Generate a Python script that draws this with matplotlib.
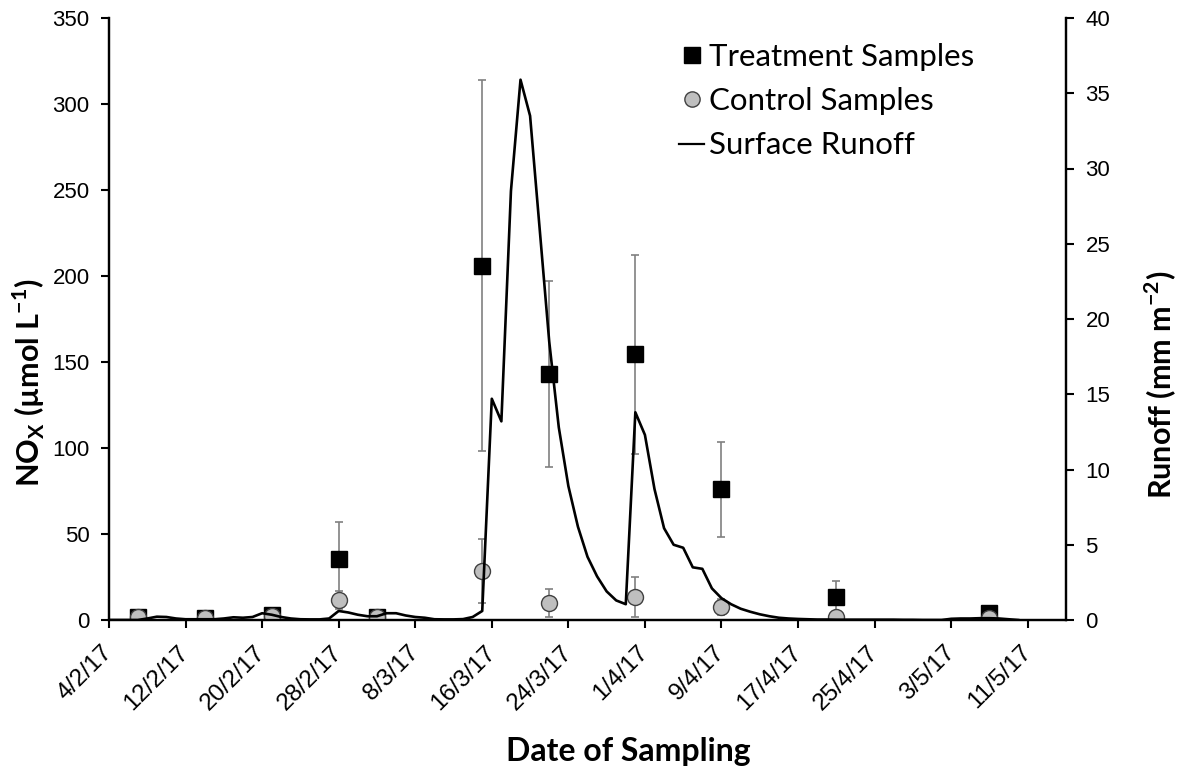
import numpy as np
import pandas as pd
import matplotlib
matplotlib.use('Agg')
import matplotlib.pyplot as plt
from matplotlib.lines import Line2D

# --- data ---
sample_dates = ['2017-02-07', '2017-02-14', '2017-02-21', '2017-02-28', '2017-03-04',
                '2017-03-15', '2017-03-22', '2017-03-31', '2017-04-09', '2017-04-21',
                '2017-05-07']
treatment = [1.5, 1.2, 3.0, 35.5, 1.5, 206, 143, 154.5, 76, 13.2, 3.8]
treatment_err = [0.5, 0.5, 1.0, 21.5, 0.5, 108, 54, 58, 27.5, 9.7, 1.0]
control = [1.5, 1.4, 2.4, 11.6, 1.5, 28.5, 10, 13.5, 7.5, 1.5, 1.0]
control_err = [0.5, 0.5, 0.5, 5.0, 0.5, 18.5, 8, 11.5, 4.8, 0.5, 0.3]

# daily surface runoff (mm m-2) from 4/2/17
runoff_start = '2017-02-04'
runoff = [0.0, 0.0, 0.0, 0.0, 0.1, 0.22, 0.2, 0.1, 0.05, 0.05,
          0.05, 0.05, 0.1, 0.18, 0.15, 0.2, 0.45, 0.35, 0.2, 0.1,
          0.05, 0.04, 0.04, 0.1, 0.6, 0.5, 0.35, 0.25, 0.25, 0.45,
          0.45, 0.3, 0.2, 0.15, 0.05, 0.04, 0.04, 0.06, 0.2, 0.6,
          14.7, 13.2, 28.5, 35.9, 33.5, 26.0, 18.5, 12.8, 8.9, 6.2,
          4.2, 2.9, 1.9, 1.3, 1.05, 13.8, 12.3, 8.7, 6.1, 5.0,
          4.8, 3.5, 3.4, 2.1, 1.45, 1.05, 0.75, 0.55, 0.38, 0.25,
          0.15, 0.1, 0.07, 0.05, 0.03, 0.03, 0.02, 0.02, 0.02, 0.02,
          0.02, 0.02, 0.02, 0.01, 0.01, 0.0, 0.0, 0.0, 0.08, 0.1,
          0.1, 0.12, 0.12, 0.1, 0.05, 0.0]

tick_dates = ['2017-02-04', '2017-02-12', '2017-02-20', '2017-02-28', '2017-03-08',
              '2017-03-16', '2017-03-24', '2017-04-01', '2017-04-09', '2017-04-17',
              '2017-04-25', '2017-05-03', '2017-05-11']
tick_labels = ['4/2/17', '12/2/17', '20/2/17', '28/2/17', '8/3/17', '16/3/17', '24/3/17',
               '1/4/17', '9/4/17', '17/4/17', '25/4/17', '3/5/17', '11/5/17']
x_range = ['2017-02-04', '2017-05-15']

sx = pd.to_datetime(sample_dates)
rx = pd.date_range(runoff_start, periods=len(runoff), freq='D')

tick_font = 'Liberation Sans'
label_font = 'Lato'

fig = plt.figure(figsize=(11.81, 7.74), dpi=100)
ax = fig.add_axes([109 / 1181, 1 - 620 / 774, (1066 - 109) / 1181, (620 - 18) / 774])
ax2 = ax.twinx()

ax.errorbar(sx, treatment, yerr=treatment_err, fmt='none', ecolor='#808080',
            elinewidth=1.2, capsize=3, capthick=1.2, zorder=2)
ax.errorbar(sx, control, yerr=control_err, fmt='none', ecolor='#808080',
            elinewidth=1.2, capsize=3, capthick=1.2, zorder=2)
ax.plot(sx, treatment, 's', color='black', markersize=11.5, zorder=3)
ax.plot(sx, control, 'o', markerfacecolor='#bfbfbf', markeredgecolor='#404040',
        markeredgewidth=1.0, markersize=11.5, zorder=4)

ax2.plot(rx, runoff, color='black', linewidth=1.9)

ax.set_xlim(pd.to_datetime(x_range[0]), pd.to_datetime(x_range[1]))
ax.set_ylim(0, 350)
ax2.set_ylim(0, 40)
ax.set_yticks(np.arange(0, 351, 50))
ax2.set_yticks(np.arange(0, 41, 5))
ax.set_xticks(pd.to_datetime(tick_dates))
ax.set_xticklabels(tick_labels, rotation=45, ha='right', va='center',
                   rotation_mode='anchor', fontsize=17.5, family=tick_font)

for a in (ax, ax2):
    a.spines['top'].set_visible(False)
    for s in ('left', 'right', 'bottom'):
        a.spines[s].set_linewidth(1.6)
    a.tick_params(width=1.5, length=6)
ax.tick_params(axis='x', pad=15)
ax.tick_params(axis='y', pad=8, labelsize=16)
ax2.tick_params(axis='y', pad=8, labelsize=16)
for lab in ax.get_yticklabels() + ax2.get_yticklabels():
    lab.set_family(tick_font)

fig.text(29 / 1181, 1 - 383 / 774, r'NO$_\mathregular{X}$ (µmol L$^\mathregular{-1}$)',
         rotation=90, ha='center', va='center', fontsize=22, fontweight='bold',
         family=label_font)
fig.text(1160 / 1181, 1 - 385 / 774, r'Runoff (mm m$^\mathregular{-2}$)',
         rotation=90, ha='center', va='center', fontsize=22, fontweight='bold',
         family=label_font)
fig.text(628 / 1181, 1 - 752 / 774, 'Date of Sampling', ha='center', va='center',
         fontsize=23, fontweight='bold', family=label_font)

handles = [Line2D([], [], marker='s', linestyle='none', color='black', markersize=11),
           Line2D([], [], marker='o', linestyle='none', markerfacecolor='#bfbfbf',
                  markeredgecolor='#404040', markersize=11),
           Line2D([], [], color='black', linewidth=1.6)]
ax2.legend(handles, ['Treatment Samples', 'Control Samples', 'Surface Runoff'],
           loc='upper left', bbox_to_anchor=(679 / 1181, 1 - 43 / 774),
           bbox_transform=fig.transFigure, frameon=False, borderpad=0,
           borderaxespad=0, handlelength=0.8, handletextpad=0.15,
           labelspacing=0.52, prop={'family': label_font, 'size': 22.5})

fig.savefig('out.png', dpi=100)
